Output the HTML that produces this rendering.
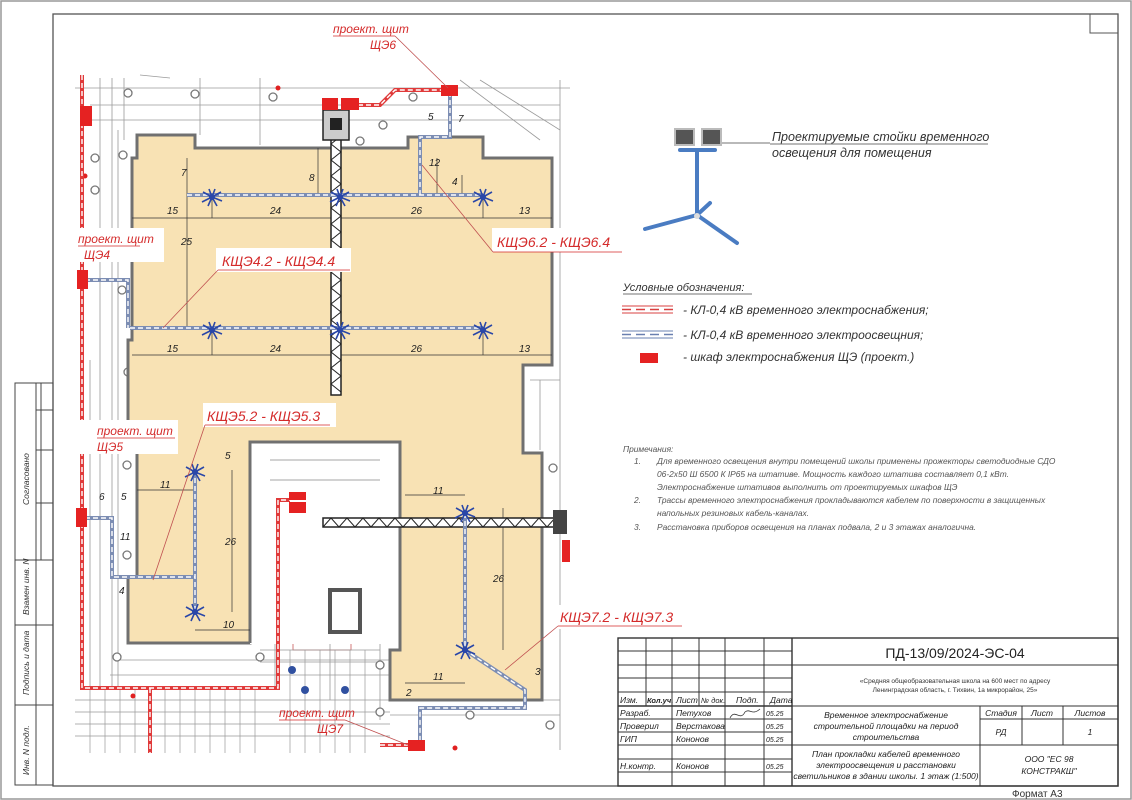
<!DOCTYPE html>
<html><head><meta charset="utf-8"><style>
html,body{margin:0;padding:0;background:#fff;}
svg{display:block;}
text{font-family:"Liberation Sans","DejaVu Sans",sans-serif;}
.it{font-style:italic;}
.red{fill:#d42a2a;font-style:italic;}
.dim{font-size:10px;font-style:italic;fill:#222;}
.tb{font-size:8.5px;fill:#222;font-style:italic;}
</style></head><body>
<svg width="1132" height="800" viewBox="0 0 1132 800" xmlns="http://www.w3.org/2000/svg">
<defs>
<g id="lamp">
<circle cx="0" cy="0" r="3" fill="#2a47a8"/>
<path d="M0 0 L-9 -5 M0 0 L-10 5 M0 0 L-4 9 M0 0 L5 9 M0 0 L10 4 M0 0 L9 -5 M0 0 L-3 -8 M0 0 L3 -8" stroke="#2a47a8" stroke-width="1.6"/>
</g>
</defs>
<!-- outer border -->
<rect x="1" y="1" width="1130" height="798" fill="none" stroke="#999" stroke-width="1.5"/>
<rect x="53" y="14" width="1065" height="772" fill="none" stroke="#555" stroke-width="1.3"/>
<rect x="1090" y="14" width="28" height="19" fill="none" stroke="#555" stroke-width="1"/>

<!-- left stamps -->
<g stroke="#444" stroke-width="1" fill="none">
<rect x="15" y="383" width="38" height="402"/>
<line x1="36" y1="383" x2="36" y2="785"/>
<line x1="41" y1="383" x2="41" y2="560"/>
<line x1="15" y1="560" x2="53" y2="560"/>
<line x1="15" y1="625" x2="53" y2="625"/>
<line x1="15" y1="705" x2="53" y2="705"/>
<line x1="36" y1="410" x2="53" y2="410"/>
<line x1="36" y1="450" x2="53" y2="450"/>
<line x1="36" y1="503" x2="53" y2="503"/>
</g>
<g font-size="8.5" fill="#333" class="it">
<text transform="translate(29,505) rotate(-90)">Согласовано</text>
<text transform="translate(29,615) rotate(-90)">Взамен инв. N</text>
<text transform="translate(29,695) rotate(-90)">Подпись и дата</text>
<text transform="translate(29,775) rotate(-90)">Инв. N подл.</text>
</g>

<!-- PLAN -->
<g>
<rect x="75" y="73" width="495" height="680" fill="#fff"/>
<!-- background gray scribbles -->
<g stroke="#9a9a9a" stroke-width="0.8" fill="none">
<line x1="75" y1="88" x2="570" y2="88"/>
<line x1="90" y1="105" x2="560" y2="105"/>
<line x1="90" y1="120" x2="560" y2="120"/>
<line x1="100" y1="78" x2="100" y2="690"/>
<line x1="112" y1="78" x2="112" y2="690"/>
<line x1="118" y1="130" x2="118" y2="690"/>
<line x1="124" y1="78" x2="124" y2="140"/>
<line x1="200" y1="78" x2="200" y2="135"/>
<line x1="260" y1="78" x2="260" y2="145"/>
<line x1="560" y1="80" x2="560" y2="750"/>
<line x1="540" y1="380" x2="540" y2="450"/>
<line x1="530" y1="380" x2="560" y2="380"/>
<line x1="120" y1="660" x2="390" y2="660"/>
<line x1="110" y1="675" x2="390" y2="675"/>
<line x1="260" y1="450" x2="390" y2="450"/>
<line x1="260" y1="460" x2="390" y2="460"/>
<line x1="275" y1="470" x2="275" y2="690"/>
<line x1="330" y1="450" x2="330" y2="700"/>
<line x1="380" y1="450" x2="380" y2="720"/>
<line x1="395" y1="700" x2="560" y2="700"/>
<line x1="390" y1="715" x2="560" y2="715"/>
<line x1="460" y1="80" x2="540" y2="140"/>
<line x1="480" y1="80" x2="560" y2="130"/>
<line x1="140" y1="75" x2="170" y2="78"/>
<line x1="90" y1="360" x2="90" y2="690"/>
</g>
<g stroke="#c04040" stroke-width="0.7" fill="none">
<rect x="310" y="485" width="58" height="110"/>
<rect x="293" y="540" width="58" height="110"/>
</g>
<!-- bottom grid -->
<g stroke="#999" stroke-width="0.7">
<line x1="75" y1="700" x2="390" y2="700"/><line x1="75" y1="712" x2="390" y2="712"/>
<line x1="75" y1="724" x2="390" y2="724"/><line x1="75" y1="736" x2="390" y2="736"/>
<line x1="90" y1="690" x2="90" y2="753"/><line x1="105" y1="690" x2="105" y2="753"/>
<line x1="120" y1="690" x2="120" y2="753"/><line x1="135" y1="690" x2="135" y2="753"/>
<line x1="165" y1="690" x2="165" y2="753"/><line x1="180" y1="690" x2="180" y2="753"/>
<line x1="195" y1="690" x2="195" y2="753"/><line x1="210" y1="690" x2="210" y2="753"/>
<line x1="225" y1="690" x2="225" y2="753"/><line x1="240" y1="690" x2="240" y2="753"/>
<line x1="255" y1="690" x2="255" y2="753"/><line x1="290" y1="650" x2="290" y2="753"/>
<line x1="305" y1="650" x2="305" y2="753"/><line x1="320" y1="650" x2="320" y2="753"/>
<line x1="335" y1="650" x2="335" y2="753"/><line x1="350" y1="650" x2="350" y2="753"/>
<line x1="365" y1="650" x2="365" y2="753"/>
<line x1="260" y1="650" x2="380" y2="650"/><line x1="260" y1="662" x2="380" y2="662"/>
</g>
<g fill="#fff" stroke="#777" stroke-width="1.3">
<circle cx="128" cy="93" r="4"/><circle cx="195" cy="94" r="4"/><circle cx="273" cy="97" r="4"/>
<circle cx="413" cy="97" r="4"/><circle cx="383" cy="125" r="4"/><circle cx="360" cy="141" r="4"/>
<circle cx="95" cy="158" r="4"/><circle cx="123" cy="155" r="4"/><circle cx="95" cy="190" r="4"/>
<circle cx="122" cy="290" r="4"/><circle cx="128" cy="372" r="4"/><circle cx="127" cy="465" r="4"/>
<circle cx="127" cy="555" r="4"/><circle cx="117" cy="657" r="4"/><circle cx="260" cy="657" r="4"/>
<circle cx="258" cy="473" r="4"/><circle cx="270" cy="535" r="4"/><circle cx="270" cy="620" r="4"/>
<circle cx="388" cy="472" r="4"/><circle cx="383" cy="620" r="4"/><circle cx="380" cy="712" r="4"/>
<circle cx="548" cy="192" r="4"/><circle cx="553" cy="468" r="4"/><circle cx="535" cy="610" r="4"/>
<circle cx="550" cy="725" r="4"/><circle cx="470" cy="715" r="4"/><circle cx="380" cy="665" r="4"/>
</g>
<g fill="#e02020"><circle cx="278" cy="88" r="2.5"/><circle cx="85" cy="176" r="2.5"/><circle cx="133" cy="696" r="2.5"/><circle cx="327" cy="534" r="2.5"/><circle cx="455" cy="748" r="2.5"/></g>
<g fill="#3050a0"><circle cx="292" cy="670" r="4"/><circle cx="305" cy="690" r="4"/><circle cx="345" cy="690" r="4"/></g>

<!-- building -->
<polygon points="137,135 195,135 195,148 408,148 408,137 483,137 483,158 552,158 552,365 523,365 523,453 542,453 542,700 390,700 390,650 400,650 400,442 250,442 250,643 128,643 128,577 137,577 137,450 128,450 128,340 132,340 132,158 137,158" fill="#f8e2b4" stroke="#707070" stroke-width="3"/>
<rect x="250" y="444" width="148" height="200" fill="#fff"/>
<path d="M250 442 L250 643 M400 442 L400 650" stroke="#707070" stroke-width="3"/>
<g stroke="#888" stroke-width="0.8" fill="none">
<line x1="270" y1="460" x2="380" y2="460"/><line x1="270" y1="480" x2="380" y2="480"/>
<rect x="330" y="590" width="30" height="42" stroke="#555" stroke-width="4"/>
</g>

<!-- dimension lines -->
<g stroke="#333" stroke-width="0.7">
<line x1="132" y1="218" x2="552" y2="218"/><line x1="132" y1="355" x2="552" y2="355"/>
<line x1="212" y1="197" x2="212" y2="218"/><line x1="340" y1="197" x2="340" y2="218"/><line x1="483" y1="197" x2="483" y2="218"/>
<line x1="212" y1="330" x2="212" y2="355"/><line x1="340" y1="330" x2="340" y2="355"/><line x1="483" y1="330" x2="483" y2="355"/>
<line x1="187" y1="158" x2="187" y2="328"/><line x1="318" y1="148" x2="318" y2="195"/>
<line x1="437" y1="158" x2="437" y2="195"/><line x1="462" y1="175" x2="462" y2="195"/>
<line x1="232" y1="470" x2="232" y2="612"/><line x1="137" y1="490" x2="195" y2="490"/><line x1="195" y1="630" x2="250" y2="630"/>
<line x1="405" y1="495" x2="465" y2="495"/><line x1="503" y1="508" x2="503" y2="650"/><line x1="405" y1="683" x2="465" y2="683"/>
</g>
<g class="dim">
<text x="167" y="214">15</text><text x="270" y="214">24</text><text x="411" y="214">26</text><text x="519" y="214">13</text>
<text x="167" y="352">15</text><text x="270" y="352">24</text><text x="411" y="352">26</text><text x="519" y="352">13</text>
<text x="181" y="176">7</text><text x="181" y="245">25</text><text x="309" y="181">8</text><text x="429" y="166">12</text>
<text x="452" y="185">4</text><text x="428" y="120">5</text><text x="458" y="122">7</text>
<text x="160" y="488">11</text><text x="225" y="459">5</text><text x="225" y="545">26</text><text x="223" y="628">10</text>
<text x="99" y="500">6</text><text x="121" y="500">5</text><text x="120" y="540">11</text><text x="119" y="594">4</text>
<text x="433" y="494">11</text><text x="493" y="582">26</text><text x="433" y="680">11</text><text x="406" y="696">2</text><text x="535" y="675">3</text>
</g>

<!-- crane -->
<g>
<rect x="331" y="120" width="10" height="275" fill="#fff" stroke="#222" stroke-width="1.5"/>
<path d="M331 128 L341 136 L331 144 L341 152 L331 160 L341 168 L331 176 L341 184 L331 192 L341 200 L331 208 L341 216 L331 224 L341 232 L331 240 L341 248 L331 256 L341 264 L331 272 L341 280 L331 288 L341 296 L331 304 L341 312 L331 320 L341 328 L331 336 L341 344 L331 352 L341 360 L331 368 L341 376 L331 384 L341 392" stroke="#222" stroke-width="1" fill="none"/>
<rect x="323" y="110" width="26" height="30" fill="#ccc" stroke="#222" stroke-width="1.5"/>
<rect x="330" y="118" width="12" height="12" fill="#222"/>
<rect x="323" y="518" width="240" height="9" fill="#fff" stroke="#222" stroke-width="1.5"/>
<path d="M323 527 L331 518 L339 527 L347 518 L355 527 L363 518 L371 527 L379 518 L387 527 L395 518 L403 527 L411 518 L419 527 L427 518 L435 527 L443 518 L451 527 L459 518 L467 527 L475 518 L483 527 L491 518 L499 527 L507 518 L515 527 L523 518 L531 527 L539 518 L547 527 L555 518 L563 527" stroke="#222" stroke-width="1" fill="none"/>
<rect x="553" y="510" width="14" height="24" fill="#444"/>
</g>

<!-- lighting cables -->
<g fill="none" stroke-linejoin="miter">
<g stroke="#7c8db3" stroke-width="4">
<path d="M187 195 L483 195"/><path d="M130 328 L483 328"/>
<path d="M420 195 L420 137 L450 137 L450 90"/>
<path d="M85 280 L128 280 L128 328"/>
<path d="M85 518 L112 518 L112 577 L195 577 M195 470 L195 612"/>
<path d="M465 513 L465 650 L525 690 L525 708 L420 708 L420 745"/>
</g>
<g stroke="#fff" stroke-width="1.4" stroke-dasharray="5 3">
<path d="M187 195 L483 195"/><path d="M130 328 L483 328"/>
<path d="M420 195 L420 137 L450 137 L450 90"/>
<path d="M85 280 L128 280 L128 328"/>
<path d="M85 518 L112 518 L112 577 L195 577 M195 470 L195 612"/>
<path d="M465 513 L465 650 L525 690 L525 708 L420 708 L420 745"/>
</g>
<!-- power cables red -->
<g stroke="#e03a3a" stroke-width="4">
<path d="M82 75 L82 688 L278 688 L278 500 L290 500"/><path d="M150 688 L150 753"/>
<path d="M350 105 L380 105 L395 90 L442 90"/><path d="M380 745 L408 745"/>
</g>
<g stroke="#fff" stroke-width="1.4" stroke-dasharray="5 3">
<path d="M82 75 L82 688 L278 688 L278 500 L290 500"/><path d="M150 688 L150 753"/>
<path d="M350 105 L380 105 L395 90 L442 90"/><path d="M380 745 L408 745"/>
</g>
</g>
<!-- lamps -->
<use href="#lamp" x="212" y="197"/><use href="#lamp" x="340" y="197"/><use href="#lamp" x="483" y="197"/>
<use href="#lamp" x="212" y="330"/><use href="#lamp" x="340" y="330"/><use href="#lamp" x="483" y="330"/>
<use href="#lamp" x="195" y="472"/><use href="#lamp" x="195" y="612"/>
<use href="#lamp" x="465" y="513"/><use href="#lamp" x="465" y="650"/>
<!-- red panels -->
<g fill="#e52222">
<rect x="80" y="106" width="12" height="20"/><rect x="77" y="270" width="11" height="19"/><rect x="76" y="508" width="11" height="19"/>
<rect x="322" y="98" width="16" height="12"/><rect x="341" y="98" width="18" height="12"/><rect x="441" y="85" width="17" height="11"/>
<rect x="289" y="492" width="17" height="8"/><rect x="289" y="502" width="17" height="11"/>
<rect x="562" y="540" width="8" height="22"/><rect x="408" y="740" width="17" height="11"/>
</g>
</g>

<!-- callout labels -->
<g>
<rect x="328" y="18" width="72" height="34" fill="#fff"/>
<text x="333" y="33" class="red" font-size="12">проект. щит</text>
<text x="370" y="49" class="red" font-size="12">ЩЭ6</text>
<line x1="333" y1="36" x2="395" y2="36" stroke="#d42a2a" stroke-width="0.8"/>
<line x1="395" y1="36" x2="448" y2="88" stroke="#c05050" stroke-width="0.8"/>

<rect x="74" y="228" width="90" height="34" fill="#fff"/>
<text x="78" y="243" class="red" font-size="12">проект. щит</text>
<text x="84" y="259" class="red" font-size="12">ЩЭ4</text>
<line x1="78" y1="246" x2="140" y2="246" stroke="#d42a2a" stroke-width="0.8"/>

<rect x="74" y="420" width="104" height="34" fill="#fff"/>
<text x="97" y="435" class="red" font-size="12">проект. щит</text>
<text x="97" y="451" class="red" font-size="12">ЩЭ5</text>
<line x1="97" y1="438" x2="175" y2="438" stroke="#d42a2a" stroke-width="0.8"/>

<text x="279" y="717" class="red" font-size="12">проект. щит</text>
<text x="317" y="733" class="red" font-size="12">ЩЭ7</text>
<line x1="279" y1="720" x2="345" y2="720" stroke="#d42a2a" stroke-width="0.8"/>
<line x1="345" y1="720" x2="408" y2="745" stroke="#c05050" stroke-width="0.8"/>

<rect x="492" y="228" width="132" height="24" fill="#fff"/>
<text x="497" y="247" class="red" font-size="14">КЩЭ6.2 - КЩЭ6.4</text>
<line x1="493" y1="252" x2="622" y2="252" stroke="#d42a2a" stroke-width="0.8"/>
<line x1="493" y1="252" x2="422" y2="165" stroke="#c05050" stroke-width="0.8"/>

<rect x="216" y="248" width="135" height="24" fill="#fff"/>
<text x="222" y="266" class="red" font-size="14">КЩЭ4.2 - КЩЭ4.4</text>
<line x1="218" y1="270" x2="350" y2="270" stroke="#d42a2a" stroke-width="0.8"/>
<line x1="218" y1="270" x2="163" y2="328" stroke="#c05050" stroke-width="0.8"/>

<rect x="203" y="403" width="133" height="24" fill="#fff"/>
<text x="207" y="421" class="red" font-size="14">КЩЭ5.2 - КЩЭ5.3</text>
<line x1="205" y1="425" x2="330" y2="425" stroke="#d42a2a" stroke-width="0.8"/>
<line x1="205" y1="425" x2="153" y2="580" stroke="#c05050" stroke-width="0.8"/>

<rect x="556" y="605" width="128" height="24" fill="#fff"/>
<text x="560" y="622" class="red" font-size="14">КЩЭ7.2 - КЩЭ7.3</text>
<line x1="558" y1="626" x2="682" y2="626" stroke="#d42a2a" stroke-width="0.8"/>
<line x1="558" y1="626" x2="505" y2="670" stroke="#c05050" stroke-width="0.8"/>
</g>

<!-- tripod -->
<g>
<g stroke="#4a7cc2" stroke-width="4" stroke-linecap="round">
<line x1="697" y1="150" x2="697" y2="215"/>
<line x1="680" y1="150" x2="715" y2="150"/>
<line x1="697" y1="215" x2="645" y2="229"/>
<line x1="697" y1="215" x2="737" y2="243"/>
<line x1="697" y1="215" x2="710" y2="203"/>
</g>
<rect x="675" y="129" width="19" height="16" fill="#555" stroke="#bbb" stroke-width="2"/>
<rect x="702" y="129" width="19" height="16" fill="#555" stroke="#bbb" stroke-width="2"/>
<circle cx="697" cy="216" r="3" fill="#ddd"/>
<line x1="722" y1="143" x2="770" y2="143" stroke="#444" stroke-width="0.7"/>
<text x="772" y="141" class="it" font-size="12.5" fill="#333">Проектируемые стойки временного</text>
<line x1="770" y1="144" x2="988" y2="144" stroke="#444" stroke-width="0.7"/>
<text x="772" y="157" class="it" font-size="12.5" fill="#333">освещения для помещения</text>
</g>

<!-- legend -->
<g>
<text x="623" y="291" class="it" font-size="11" fill="#333">Условные обозначения:</text>
<line x1="623" y1="294" x2="752" y2="294" stroke="#444" stroke-width="0.7"/>
<g stroke="#d84040" stroke-width="1"><line x1="622" y1="306" x2="673" y2="306"/><line x1="622" y1="313" x2="673" y2="313"/></g>
<line x1="622" y1="309.5" x2="673" y2="309.5" stroke="#d84040" stroke-width="1.5" stroke-dasharray="9 5"/>
<g stroke="#6a80b0" stroke-width="1"><line x1="622" y1="331" x2="673" y2="331"/><line x1="622" y1="338" x2="673" y2="338"/></g>
<line x1="622" y1="334.5" x2="673" y2="334.5" stroke="#6a80b0" stroke-width="1.5" stroke-dasharray="9 5"/>
<rect x="640" y="353" width="18" height="10" fill="#e52222"/>
<text x="683" y="314" class="it" font-size="12" fill="#333">- КЛ-0,4 кВ временного электроснабжения;</text>
<text x="683" y="339" class="it" font-size="12" fill="#333">- КЛ-0,4 кВ временного электроосвещния;</text>
<text x="683" y="361" class="it" font-size="12" fill="#333">- шкаф электроснабжения  ЩЭ (проект.)</text>
</g>

<!-- notes -->
<g class="it" font-size="8.4" fill="#555">
<text x="623" y="452">Примечания:</text>
<text x="634" y="464">1.</text><text x="657" y="464">Для временного освещения внутри помещений школы применены прожекторы светодиодные СДО</text>
<text x="657" y="477">06-2х50 Ш 6500 К IP65 на штативе. Мощность каждого штатива составляет 0,1 кВт.</text>
<text x="657" y="490">Электроснабжение штативов выполнить от проектируемых шкафов ЩЭ</text>
<text x="634" y="503">2.</text><text x="657" y="503">Трассы временного электроснабжения прокладываются кабелем по поверхности в защищенных</text>
<text x="657" y="516">напольных резиновых кабель-каналах.</text>
<text x="634" y="530">3.</text><text x="657" y="530">Расстановка приборов освещения на планах подвала, 2 и 3 этажах аналогична.</text>
</g>

<!-- title block -->
<g stroke="#333" stroke-width="1" fill="none">
<rect x="618" y="638" width="500" height="148" stroke-width="1.4"/>
<line x1="792" y1="638" x2="792" y2="786" stroke-width="1.4"/>
<line x1="792" y1="665" x2="1118" y2="665"/>
<line x1="792" y1="706" x2="1118" y2="706"/>
<line x1="792" y1="745" x2="1118" y2="745"/>
<line x1="980" y1="706" x2="980" y2="786"/>
<line x1="980" y1="719" x2="1118" y2="719"/>
<line x1="1022" y1="706" x2="1022" y2="745"/>
<line x1="1063" y1="706" x2="1063" y2="745"/>
<line x1="618" y1="651" x2="792" y2="651"/><line x1="618" y1="665" x2="792" y2="665"/>
<line x1="618" y1="678" x2="792" y2="678"/><line x1="618" y1="692" x2="792" y2="692"/>
<line x1="618" y1="706" x2="792" y2="706" stroke-width="1.4"/><line x1="618" y1="719" x2="792" y2="719"/>
<line x1="618" y1="732" x2="792" y2="732"/><line x1="618" y1="745" x2="792" y2="745"/>
<line x1="618" y1="759" x2="792" y2="759"/><line x1="618" y1="772" x2="792" y2="772"/>
<line x1="646" y1="638" x2="646" y2="706"/>
<line x1="672" y1="638" x2="672" y2="786"/>
<line x1="699" y1="638" x2="699" y2="706"/>
<line x1="725" y1="638" x2="725" y2="786"/>
<line x1="764" y1="638" x2="764" y2="786"/>
</g>
<g class="tb">
<text x="620" y="703">Изм.</text><text x="647" y="703" font-weight="bold" font-size="7.5">Кол.уч.</text><text x="676" y="703">Лист</text><text x="701" y="703" font-size="7.5">№ док.</text><text x="736" y="703">Подп.</text><text x="770" y="703">Дата</text>
<text x="620" y="716">Разраб.</text><text x="676" y="716">Петухов</text><text x="766" y="716" font-size="7">05.25</text>
<text x="620" y="729">Проверил</text><text x="676" y="729">Верстакова</text><text x="766" y="729" font-size="7">05.25</text>
<text x="620" y="742">ГИП</text><text x="676" y="742">Кононов</text><text x="766" y="742" font-size="7">05.25</text>
<text x="620" y="769">Н.контр.</text><text x="676" y="769">Кононов</text><text x="766" y="769" font-size="7">05.25</text>
</g>
<path d="M730 718 C735 708 740 722 745 712 C750 708 752 716 760 709" stroke="#333" stroke-width="0.8" fill="none"/>
<text x="955" y="658" text-anchor="middle" font-size="14" fill="#222">ПД-13/09/2024-ЭС-04</text>
<text x="955" y="683" text-anchor="middle" font-size="6.5" fill="#333">«Средняя общеобразовательная школа на 600 мест по адресу</text>
<text x="955" y="692" text-anchor="middle" font-size="6.5" fill="#333">Ленинградская область, г. Тихвин, 1а микрорайон, 25»</text>
<g class="tb" text-anchor="middle" font-size="9">
<text x="886" y="718">Временное электроснабжение</text>
<text x="886" y="729">строительной площадки на период</text>
<text x="886" y="740">строительства</text>
<text x="886" y="757">План прокладки кабелей временного</text>
<text x="886" y="768">электроосвещения и расстановки</text>
<text x="886" y="779">светильников в здании школы. 1 этаж (1:500)</text>
<text x="1001" y="716">Стадия</text><text x="1042" y="716">Лист</text><text x="1090" y="716">Листов</text>
<text x="1001" y="735">РД</text><text x="1090" y="735">1</text>
<text x="1049" y="762">ООО "ЕС 98</text><text x="1049" y="774">КОНСТРАКШ"</text>
</g>
<text x="1012" y="797" font-size="10" fill="#333">Формат А3</text>
</svg>
</body></html>
